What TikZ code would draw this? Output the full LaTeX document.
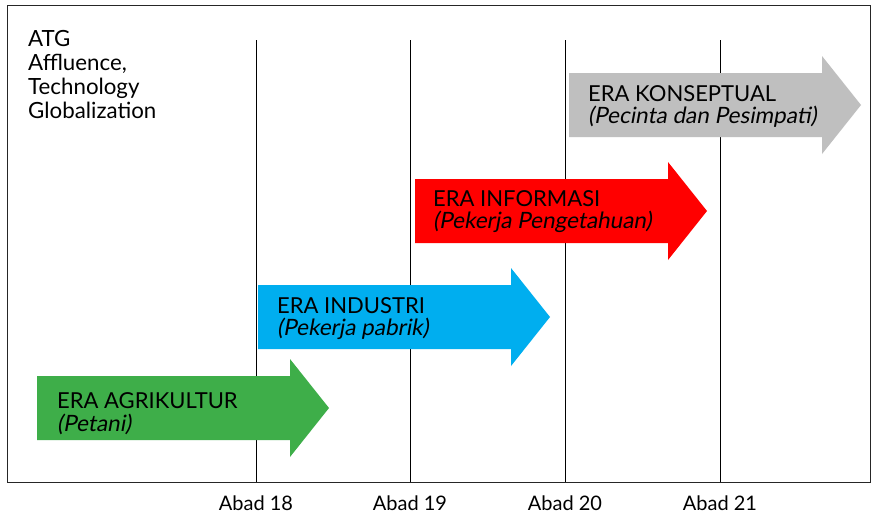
\documentclass[tikz,border=0pt]{standalone}
\usepackage{fontspec}
\setmainfont{Lato}
\newfontfamily\oblique[FakeSlant=0.18]{Lato}
\definecolor{agri}{RGB}{62,174,73}
\definecolor{indu}{RGB}{0,174,239}
\definecolor{info}{RGB}{255,0,0}
\definecolor{konse}{RGB}{191,191,191}
\begin{document}
\begin{tikzpicture}[x=1pt,y=-1pt,
  frame/.style={draw=black!85,line width=1pt},
  divider/.style={draw=black,line width=0.8pt},
  eratitle/.style={anchor=base west,inner sep=0pt,font=\fontsize{22}{24}\selectfont},
  erasub/.style={anchor=base west,inner sep=0pt,font=\fontsize{22.5}{24}\oblique},
  abad/.style={anchor=base,inner sep=0pt,font=\fontsize{20}{22}\selectfont},
  sidenote/.style={anchor=north west,inner sep=0pt,align=left,font=\fontsize{22.3}{24}\selectfont}]
\useasboundingbox (0,0) rectangle (873,517);
\fill[white] (0,0) rectangle (873,517);

% outer frame and century dividers
\draw[frame] (7,5) rectangle (870,482);
\foreach \x/\n in {256/18,410/19,565/20,720/21}{
  \coordinate (top\n) at (\x,40);
  \coordinate (bot\n) at (\x,482);
  \draw[divider] (top\n) -- (bot\n);
  \node[abad] (abad\n) at (\x,510) {Abad \n};
}

% block arrow in the given colour, drawn from the body's top-left corner
\newcommand\eraarrow[1]{%
  \fill[#1] (0,0) -- ++(253,0) -- ++(0,-17) -- ++(39,49) -- ++(-39,49)
    -- ++(0,-17) -- ++(-253,0) -- cycle;}

\begin{scope}[shift={(37,376)}]\eraarrow{agri}\end{scope}
\begin{scope}[shift={(258,285)}]\eraarrow{indu}\end{scope}
\begin{scope}[shift={(415,179)}]\eraarrow{info}\end{scope}
\begin{scope}[shift={(569,73)}]\eraarrow{konse}\end{scope}

% era labels
\node[eratitle] (agriT) at (57,408) {ERA AGRIKULTUR};
\node[erasub]   (agriS) at (57,431) {(Petani)};
\node[eratitle] (induT) at (277,313) {ERA INDUSTRI};
\node[erasub]   (induS) at (277,335) {(Pekerja pabrik)};
\node[eratitle] (infoT) at (433,206) {ERA INFORMASI};
\node[erasub]   (infoS) at (433,228) {(Pekerja Pengetahuan)};
\node[eratitle] (konT)  at (588,101) {ERA KONSEPTUAL};
\node[erasub]   (konS)  at (588,123) {(Pecinta dan Pesimpati)};

% side note
\node[sidenote] (atg) at (28,30) {ATG\\Affluence,\\Technology\\Globalization};
\end{tikzpicture}
\end{document}
